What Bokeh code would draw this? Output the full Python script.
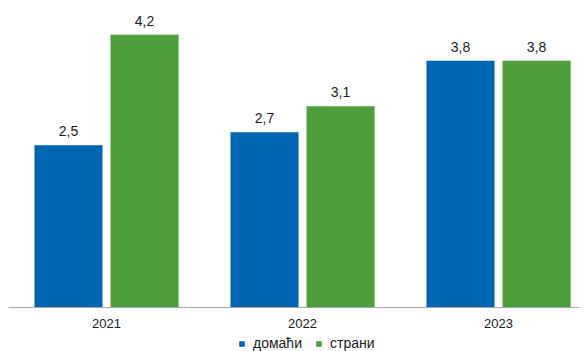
from bokeh.plotting import figure
from bokeh.layouts import column
from bokeh.models import (ColumnDataSource, Range1d, FixedTicker, Legend, LegendItem)
from bokeh.transform import dodge
from bokeh.core.properties import value
from bokeh.embed import file_html
from bokeh.resources import INLINE

years = ["2021", "2022", "2023"]
domestic = [2.5, 2.7, 3.8]
foreign = [4.2, 3.1, 3.8]
series_names = ["домаћи", "страни"]

BLUE = "#0066B2"
GREEN = "#4E9F3C"
FONT = "Liberation Sans"

xs = list(range(len(years)))
fmt = lambda v: f"{v:.1f}".replace(".", ",")
src = ColumnDataSource(dict(
    x=xs, dom=domestic, fore=foreign,
    dom_lbl=[fmt(v) for v in domestic], fore_lbl=[fmt(v) for v in foreign],
))

p = figure(frame_width=571, frame_height=299, output_backend="svg",
           toolbar_location=None, x_range=Range1d(-0.5, 2.413),
           y_range=Range1d(0, 4.6), min_border=0, min_border_left=8,
           min_border_top=8, min_border_bottom=27, outline_line_color=None,
           y_axis_location=None)
p.xgrid.visible = False
p.ygrid.visible = False
p.background_fill_color = "white"

off = 0.194
w = 0.35
r1 = p.vbar(x=dodge("x", -off, range=p.x_range), top="dom", width=w, bottom=0,
            source=src, fill_color=BLUE, line_color="#dfe8f0", line_width=0.6)
r2 = p.vbar(x=dodge("x", off, range=p.x_range), top="fore", width=w, bottom=0,
            source=src, fill_color=GREEN, line_color="#e2eedf", line_width=0.6)

for col, lbl, dx in (("dom", "dom_lbl", -off), ("fore", "fore_lbl", off)):
    p.text(x=dodge("x", dx, range=p.x_range), y=col, text=lbl, source=src,
           text_align="center", text_baseline="bottom", y_offset=-9,
           text_font=value(FONT), text_font_size="14px", text_color="#1a1a1a")

ax = p.xaxis[0]
ax.ticker = FixedTicker(ticks=xs)
ax.major_label_overrides = {i: y for i, y in enumerate(years)}
ax.major_tick_line_color = None
ax.minor_tick_line_color = None
ax.major_tick_out = 0
ax.axis_line_color = "#a6a6a6"
ax.axis_line_width = 1
ax.major_label_text_font = FONT
ax.major_label_text_font_size = "13px"
ax.major_label_text_color = "#1a1a1a"
ax.major_label_standoff = 11

# legend strip below the chart (key renderers are zero-height and out of view)
lg = figure(width=579, height=17, output_backend="svg", toolbar_location=None,
            x_range=Range1d(10, 11), y_range=Range1d(10, 11), min_border=0,
            outline_line_color=None, x_axis_location=None, y_axis_location=None)
lg.xgrid.visible = False
lg.ygrid.visible = False
k1 = lg.vbar(x="x", top="dom", bottom="dom", width=0.1, source=src,
             fill_color=BLUE, line_color=None)
k2 = lg.vbar(x="x", top="fore", bottom="fore", width=0.1, source=src,
             fill_color=GREEN, line_color=None)
legend = Legend(items=[LegendItem(label=series_names[0], renderers=[k1]),
                       LegendItem(label=series_names[1], renderers=[k2])],
                orientation="horizontal", location=(230, 0),
                glyph_width=7, glyph_height=7, label_text_font=FONT,
                label_text_font_size="14px", label_text_color="#1a1a1a",
                border_line_color=None, background_fill_alpha=0,
                spacing=13, padding=0, margin=0, label_standoff=8,
                label_height=14)
lg.add_layout(legend, "center")

layout = column(p, lg, spacing=0)
open("out.html", "w").write(file_html(layout, INLINE))
